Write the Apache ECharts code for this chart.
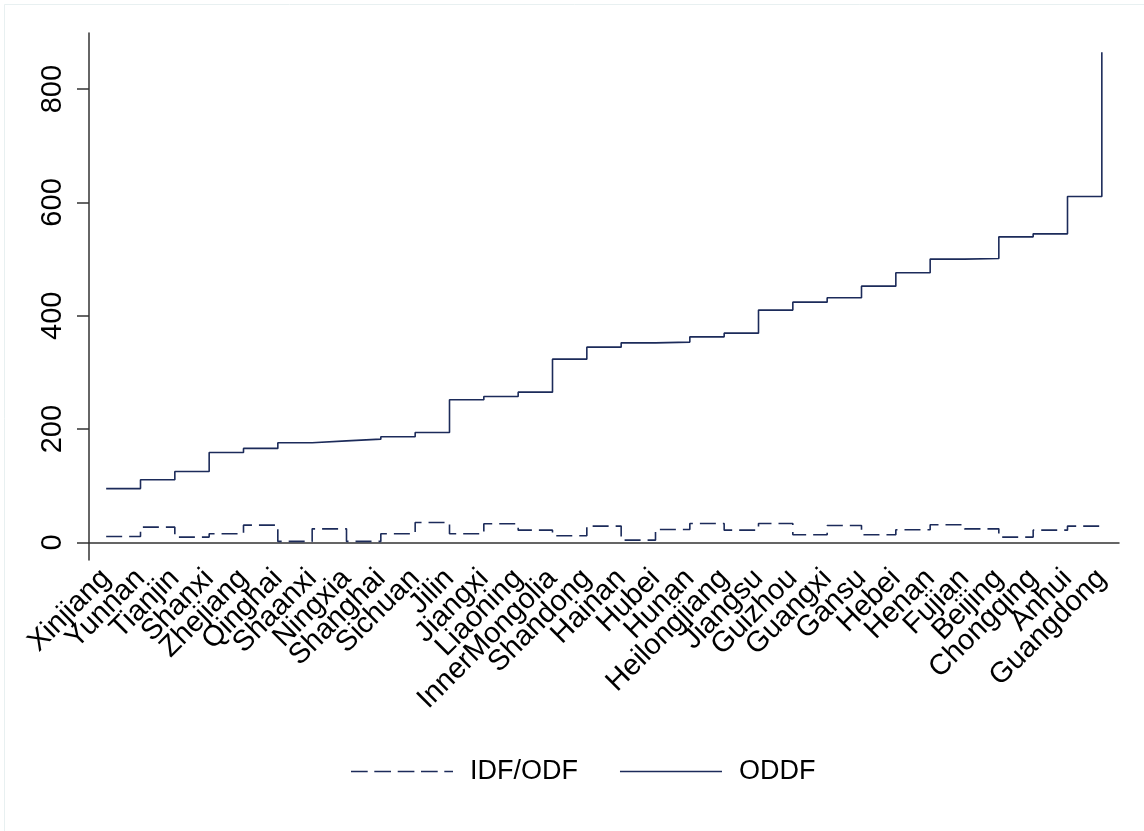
<!DOCTYPE html>
<html>
<head>
<meta charset="utf-8">
<script src="https://cdn.jsdelivr.net/npm/echarts@6/dist/echarts.min.js"></script>
<style>
html,body{margin:0;padding:0;background:#fff;}
#chart{width:1144px;height:831px;}
</style>
</head>
<body>
<div id="chart"></div>
<script>
var provinces = ["Xinjiang","Yunnan","Tianjin","Shanxi","Zhejiang","Qinghai","Shaanxi","Ningxia","Shanghai","Sichuan","Jilin","Jiangxi","Liaoning","InnerMongolia","Shandong","Hainan","Hubei","Hunan","Heilongjiang","Jiangsu","Guizhou","Guangxi","Gansu","Hebei","Henan","Fujian","Beijing","Chongqing","Anhui","Guangdong"];
var idfOdf = [10.6,27,9.4,15.3,30.5,1.8,24,1.8,15.3,35.3,15.3,32.9,21.7,11.8,28.8,4,22.9,33.5,21.7,33.5,13.5,30,13.5,22.3,31.1,24,9.4,21.7,28.8,31];
var oddf = [95,110.5,125.3,158.8,165.9,175.8,179.3,182.3,186.4,194,251.7,257.6,265.2,323.4,344.6,352.2,353.5,362.8,369.3,410,424,431.7,452.3,475.8,500,501,539.3,544.6,610.5,865.2];
var yTicks = [0,200,400,600,800];

var lineColor = '#1c2b5a';
var font = 'Liberation Sans, Arial, sans-serif';
var chart = echarts.init(document.getElementById('chart'), null, {renderer:'canvas'});
chart.setOption({
  backgroundColor:'#ffffff',
  animation:false,
  textStyle:{fontFamily:font},
  graphic:[{
    type:'rect', silent:true,
    shape:{x:4.5,y:4.5,width:1150,height:840},
    style:{fill:'none',stroke:'#e8f0f1',lineWidth:1}
  }],
  grid:{left:89,right:25,top:33,bottom:271,containLabel:false},
  legend:{
    left:351, top:758, padding:0,
    itemWidth:102, itemHeight:26, itemGap:42,
    textStyle:{fontSize:27,color:'#000',padding:[0,0,0,12],fontFamily:font},
    data:[
      {name:'IDF/ODF', icon:'path://M0,0 h16.7 v1.6 h-16.7 Z M23.3,0 h16.7 v1.6 h-16.7 Z M46.7,0 h16.7 v1.6 h-16.7 Z M70,0 h16.7 v1.6 h-16.7 Z M93.3,0 h8.7 v1.6 h-8.7 Z'},
      {name:'ODDF', icon:'path://M0,0 h102 v1.6 h-102 Z'}
    ]
  },
  xAxis:{
    type:'category',
    data:provinces,
    boundaryGap:true,
    axisLine:{lineStyle:{color:'#333',width:1.5}},
    axisTick:{alignWithLabel:true,length:12,lineStyle:{color:'#333',width:1.5}},
    axisLabel:{rotate:45,interval:0,fontSize:29,color:'#000',margin:14,fontFamily:font},
    splitLine:{show:false}
  },
  yAxis:{
    type:'value',
    min:-31, max:899,
    axisLine:{show:true,lineStyle:{color:'#333',width:1.5}},
    axisTick:{show:true,length:12,customValues:yTicks,lineStyle:{color:'#333',width:1.5}},
    axisLabel:{rotate:90,fontSize:29,color:'#000',margin:22,customValues:yTicks,fontFamily:font},
    splitLine:{show:false}
  },
  series:[
    {
      name:'IDF/ODF', type:'line', step:'end', data:idfOdf,
      symbol:'none', showSymbol:false,
      itemStyle:{color:lineColor},
      lineStyle:{color:lineColor,width:1.6,type:[16,7]}
    },
    {
      name:'ODDF', type:'line', step:'end', data:oddf,
      symbol:'none', showSymbol:false,
      itemStyle:{color:lineColor},
      lineStyle:{color:lineColor,width:1.6,type:'solid'}
    }
  ]
});
</script>
</body>
</html>
